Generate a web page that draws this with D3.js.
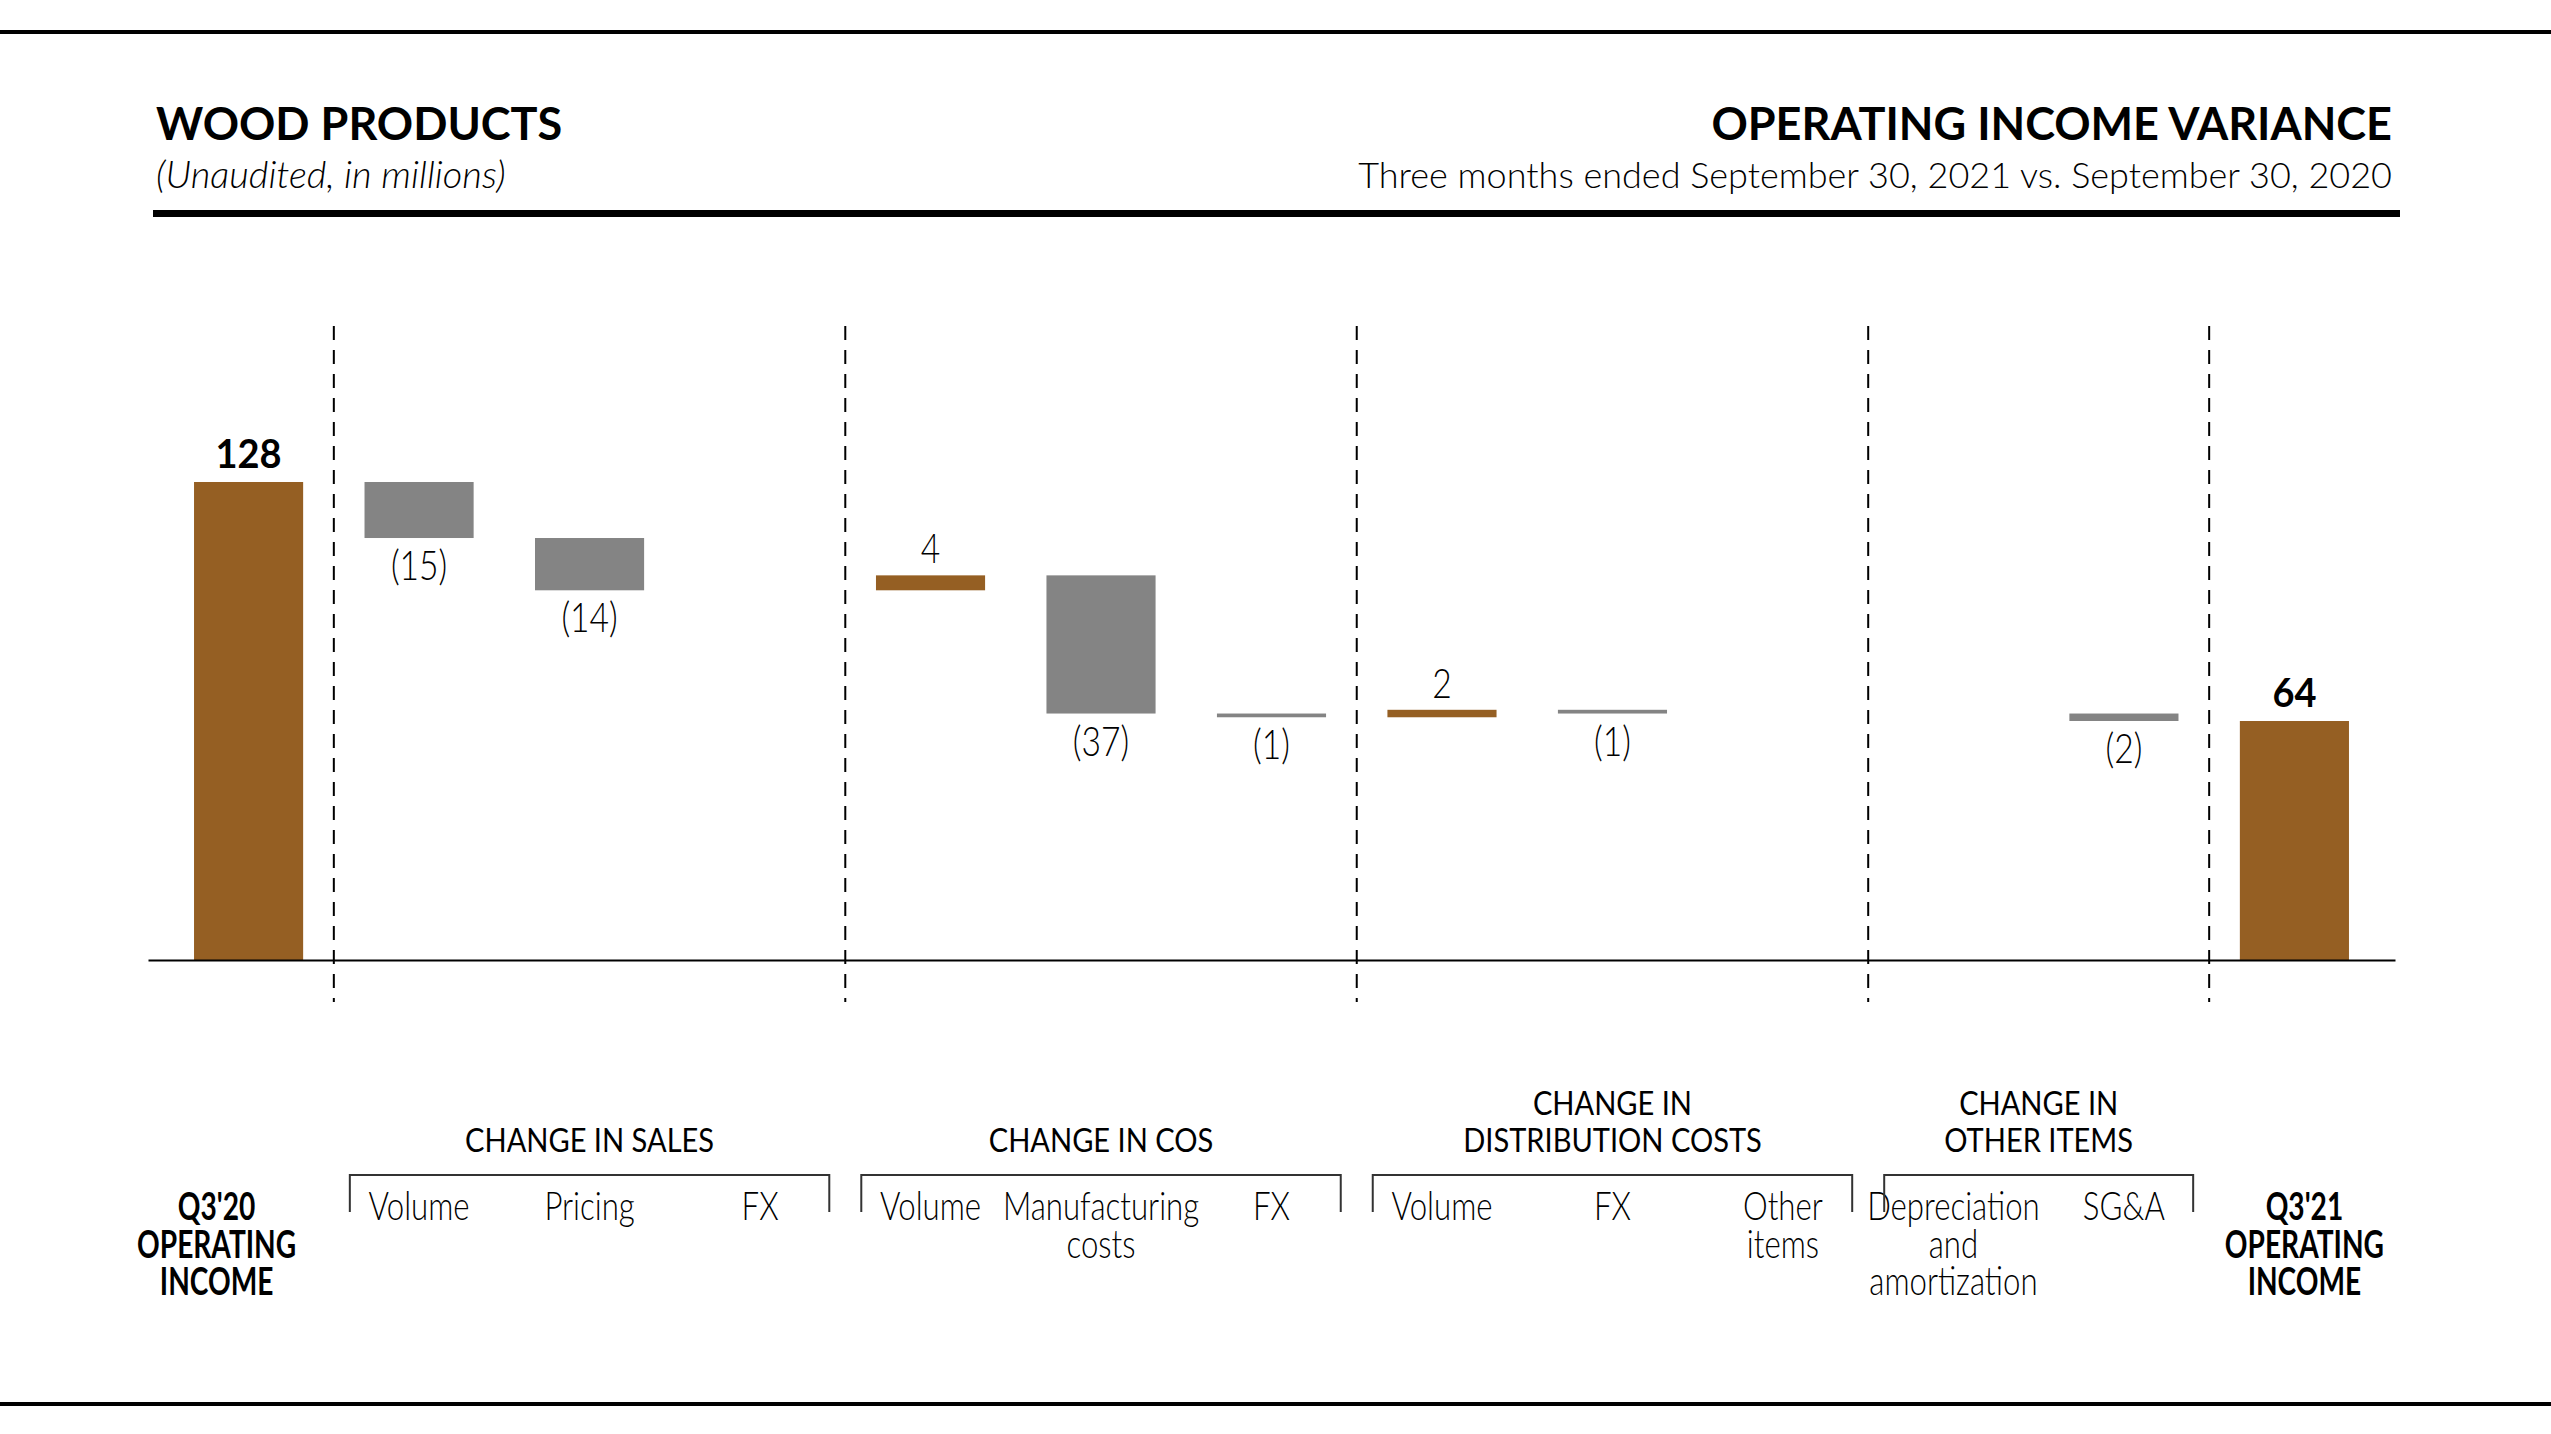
<!DOCTYPE html>
<html>
<head>
<meta charset="utf-8">
<script src="https://cdn.jsdelivr.net/npm/d3@7"></script>
<style>
  body { margin: 0; background: #fff; }
  text { font-family: Lato, "Open Sans", sans-serif; fill: #000; }
</style>
</head>
<body>
<div id="chart"></div>
<script>
// categories along the x axis (keys), in waterfall order
const categories = ["Q3'20", "Sales Volume", "Pricing", "Sales FX", "COS Volume", "Manufacturing costs", "COS FX",
  "Dist Volume", "Dist FX", "Other items", "Depreciation and amortization", "SG&A", "Q3'21"];
// start / end totals and the variance steps, in millions
const values = [128, -15, -14, 0, 4, -37, -1, 2, -1, 0, 0, -2, 64];
const kinds = ["total", "delta", "delta", "delta", "delta", "delta", "delta", "delta", "delta", "delta", "delta", "delta", "total"];
// tick labels, one array of lines per category
const tickLabels = [["Q3'20", "OPERATING", "INCOME"], ["Volume"], ["Pricing"], ["FX"], ["Volume"], ["Manufacturing", "costs"], ["FX"],
  ["Volume"], ["FX"], ["Other", "items"], ["Depreciation", "and", "amortization"], ["SG&A"], ["Q3'21", "OPERATING", "INCOME"]];
// group headers and which categories they span
const groupTitles = [["CHANGE IN SALES"], ["CHANGE IN COS"], ["CHANGE IN", "DISTRIBUTION COSTS"], ["CHANGE IN", "OTHER ITEMS"]];
const groupFirst = ["Sales Volume", "COS Volume", "Dist Volume", "Depreciation and amortization"];
const groupLast = ["Sales FX", "COS FX", "Other items", "SG&A"];

const width = 2551;
const height = 1434;
const brown = '#955f23';
const grey = '#848484';
const lineH = 37.5;

const svg = d3.select('#chart')
  .append('svg')
  .attr('width', width)
  .attr('height', height);

// header rules and titles
svg.append('rect').attr('x', 0).attr('y', 30).attr('width', width).attr('height', 4).attr('fill', '#000');
svg.append('rect').attr('x', 153).attr('y', 210).attr('width', 2247).attr('height', 7).attr('fill', '#000');
svg.append('rect').attr('x', 0).attr('y', 1402).attr('width', width).attr('height', 4).attr('fill', '#000');

svg.append('text')
  .attr('x', 156).attr('y', 140)
  .style('font-size', '45px').style('font-weight', 700)
  .text('WOOD PRODUCTS');
svg.append('text')
  .attr('x', 156).attr('y', 188)
  .style('font-size', '38px').style('font-style', 'italic').style('font-weight', 300)
  .text('(Unaudited, in millions)');
svg.append('text')
  .attr('x', 2392).attr('y', 140)
  .style('font-size', '45px').style('font-weight', 700)
  .style('text-anchor', 'end')
  .text('OPERATING INCOME VARIANCE');
svg.append('text')
  .attr('x', 2392).attr('y', 188)
  .style('font-size', '36px').style('font-weight', 300)
  .style('text-anchor', 'end')
  .text('Three months ended September 30, 2021 vs. September 30, 2020');

// scales
const xScale = d3.scaleBand()
  .domain(categories)
  .range([148, 2395])
  .paddingInner(0.36)
  .paddingOuter(0.27);
const yScale = d3.scaleLinear()
  .domain([0, 128])
  .range([960, 482]);
const mid = d => xScale(d) + xScale.bandwidth() / 2;

// running totals for the waterfall
let running = 0;
const bars = categories.map((c, i) => {
  let from, to;
  if (kinds[i] === 'total') {
    from = 0; to = values[i]; running = values[i];
  } else {
    from = running; to = running + values[i]; running = to;
  }
  return { key: c, value: values[i], kind: kinds[i], from: from, to: to };
});

// dashed dividers between groups: half way between neighbouring bands
const dividerAfter = ["Q3'20", "Sales FX", "COS FX", "Other items", "SG&A"];
svg.selectAll('.divider')
  .data(dividerAfter)
  .enter()
  .append('line')
  .classed('divider', true)
  .attr('x1', d => mid(d) + xScale.step() / 2)
  .attr('x2', d => mid(d) + xScale.step() / 2)
  .attr('y1', 326)
  .attr('y2', 1002)
  .attr('stroke', '#000')
  .attr('stroke-width', 2)
  .attr('stroke-dasharray', '14,10');

// bars (zero steps draw nothing)
svg.selectAll('.bar')
  .data(bars.filter(d => d.value !== 0))
  .enter()
  .append('rect')
  .classed('bar', true)
  .attr('x', d => xScale(d.key))
  .attr('y', d => yScale(Math.max(d.from, d.to)))
  .attr('width', xScale.bandwidth())
  .attr('height', d => Math.abs(yScale(d.from) - yScale(d.to)))
  .attr('fill', d => (d.kind === 'total' || d.value > 0) ? brown : grey);

// value labels: above for totals / gains, below for losses
// (narrow look of the original face is faked with a horizontal squeeze)
svg.selectAll('.bar-label')
  .data(bars.filter(d => d.value !== 0))
  .enter()
  .append('text')
  .classed('bar-label', true)
  .attr('transform', d => {
    const y = d.value > 0 ? yScale(Math.max(d.from, d.to)) - (d.kind === 'total' ? 14 : 12)
                          : yScale(Math.min(d.from, d.to)) + 42;
    return `translate(${mid(d.key)},${y}) scale(${d.kind === 'total' ? 0.95 : 0.82},1)`;
  })
  .style('text-anchor', 'middle')
  .style('font-size', d => d.kind === 'total' ? '40px' : '41px')
  .style('font-weight', d => d.kind === 'total' ? 700 : 300)
  .text(d => d.value < 0 ? '(' + (-d.value) + ')' : d.value);

// baseline from the axis, no ticks
const xAxis = d3.axisBottom(xScale).tickSize(0).tickSizeOuter(0).tickFormat('');
const axisG = svg.append('g')
  .classed('x axis', true)
  .attr('transform', 'translate(0,960)')
  .call(xAxis);
axisG.select('.domain').attr('stroke', '#000').attr('stroke-width', 2);

// category labels under the brackets
const endShift = { "Q3'20": -32, "Q3'21": 10 };
const tick = svg.selectAll('.tick-label')
  .data(categories)
  .enter()
  .append('text')
  .classed('tick-label', true)
  .attr('transform', (d, i) => `translate(${mid(d) + (endShift[d] || 0)},1220) scale(${kinds[i] === 'total' ? 0.74 : 0.8},1)`)
  .style('text-anchor', 'middle')
  .style('font-size', (d, i) => kinds[i] === 'total' ? '38px' : '39px')
  .style('font-weight', (d, i) => kinds[i] === 'total' ? 700 : 300);
tick.selectAll('tspan')
  .data((d, i) => tickLabels[i])
  .enter()
  .append('tspan')
  .attr('x', 0)
  .attr('dy', (d, i) => i === 0 ? 0 : lineH)
  .text(d => d);

// group brackets and headers
groupTitles.forEach((title, g) => {
  const left = mid(groupFirst[g]) - xScale.step() / 2 + 16;
  const right = mid(groupLast[g]) + xScale.step() / 2 - 16;
  svg.append('path')
    .attr('d', `M${left},1212V1175H${right}V1212`)
    .attr('fill', 'none')
    .attr('stroke', '#333')
    .attr('stroke-width', 2);
  const t = svg.append('text')
    .attr('transform', `translate(${(left + right) / 2},${1152 - (title.length - 1) * lineH}) scale(0.88,1)`)
    .style('text-anchor', 'middle')
    .style('font-size', '33px');
  title.forEach((line, i) => {
    t.append('tspan')
      .attr('x', 0)
      .attr('dy', i === 0 ? 0 : lineH)
      .text(line);
  });
});
</script>
</body>
</html>
